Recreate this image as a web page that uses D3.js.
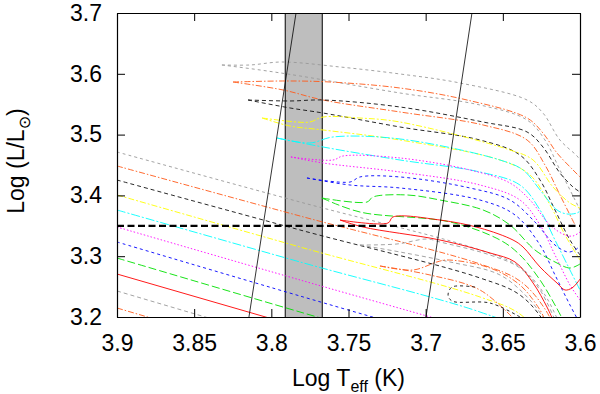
<!DOCTYPE html>
<html>
<head>
<meta charset="utf-8">
<script src="https://cdn.jsdelivr.net/npm/d3@7"></script>
<style>
body { margin: 0; background: white; }
text { font-family: "Liberation Sans", Arial, sans-serif; }
</style>
</head>
<body>
<svg></svg>
<script>
var w = 600
var h = 394
var padL = 117, padR = 580, padT = 13, padB = 317

var xTicks = [3.9, 3.85, 3.8, 3.75, 3.7, 3.65, 3.6]
var yTicks = [3.2, 3.3, 3.4, 3.5, 3.6, 3.7]

// shaded band in log Teff
var band = [3.791, 3.767]
// the two slanted edges
var blueEdge = [[3.784, 3.7], [3.8145, 3.2]]
var redEdge = [[3.670, 3.7], [3.6998, 3.2]]
var refLum = 3.35

// tracks, top (0) to bottom (10): [logTeff, logL]
var crossing = [
  [[3.9,3.4714],[3.7814,3.3891],[3.6648,3.3102],[3.6389,3.2822],[3.6227,3.2362],[3.6097,3.167]],
  [[3.9,3.4484],[3.7814,3.3661],[3.6648,3.2872],[3.6389,3.2592],[3.6227,3.2132],[3.6097,3.1441]],
  [[3.9,3.4253],[3.7814,3.3431],[3.6648,3.2642],[3.6389,3.2362],[3.6227,3.1901],[3.6097,3.1211]],
  [[3.9,3.4007],[3.7814,3.3151],[3.6648,3.2329],[3.6389,3.2049],[3.6227,3.1589]],
  [[3.9,3.376],[3.7814,3.2905],[3.6648,3.2082],[3.6389,3.1803],[3.6227,3.1342]],
  [[3.9,3.348],[3.7814,3.2609],[3.6648,3.177]],
  [[3.9,3.3234],[3.7814,3.2345],[3.6648,3.149]],
  [[3.9,3.297],[3.7814,3.2082],[3.6648,3.1227]],
  [[3.9,3.2707],[3.7814,3.1836]],
  [[3.9,3.2428],[3.7814,3.154]],
  [[3.9,3.2148],[3.7814,3.126]]
]

var loopUpper = [
  [[3.832,3.6145],[3.8138,3.6145],[3.7931,3.6194],[3.7555,3.6112],[3.7166,3.5997],[3.6778,3.5849],[3.6343,3.5569],[3.624,3.5355],[3.613,3.4911],[3.6019,3.4648],[3.600,3.4582]],
  [[3.8248,3.5865],[3.7898,3.5882],[3.762,3.5865],[3.7166,3.5766],[3.6732,3.5569],[3.6343,3.5273],[3.624,3.5026],[3.6149,3.4697],[3.6045,3.4418],[3.600,3.4303]],
  [[3.8151,3.5569],[3.7879,3.5553],[3.7665,3.5569],[3.7166,3.5454],[3.6628,3.5207],[3.6343,3.5043],[3.624,3.4796],[3.613,3.4368],[3.6045,3.4138],[3.600,3.4056]],
  [[3.806,3.5273],[3.7834,3.5207],[3.775,3.5207],[3.7665,3.5289],[3.7426,3.5273],[3.7166,3.5207],[3.6454,3.4747],[3.6304,3.4582],[3.6175,3.4138],[3.6065,3.3875],[3.600,3.3793]],
  [[3.7963,3.4944],[3.775,3.4862],[3.760,3.4961],[3.7166,3.4928],[3.6518,3.4582],[3.6369,3.4418],[3.6259,3.4089],[3.6149,3.376],[3.6084,3.3694],[3.6019,3.3711],[3.600,3.3743]],
  [[3.7873,3.4632],[3.760,3.4582],[3.7536,3.4648],[3.7166,3.4615],[3.6713,3.4418],[3.6454,3.4204],[3.6324,3.3924],[3.6194,3.3513],[3.6097,3.3349],[3.6045,3.3333],[3.600,3.3398]],
  [[3.7769,3.4286],[3.749,3.422],[3.7426,3.4303],[3.7166,3.4303],[3.6713,3.4122],[3.6454,3.3924],[3.6292,3.3563],[3.6162,3.3184],[3.6078,3.3069],[3.6032,3.3102],[3.600,3.3168]],
  [[3.7672,3.3957],[3.738,3.3891],[3.7341,3.3974],[3.7121,3.4007],[3.6907,3.3924],[3.6628,3.376],[3.6454,3.3513],[3.6292,3.3102],[3.6162,3.2905],[3.6065,3.2806],[3.600,3.2872]],
  [[3.7555,3.3595],[3.7244,3.3546],[3.7212,3.3645],[3.6907,3.3595],[3.6648,3.3464],[3.6434,3.3266],[3.6369,3.3151],[3.6259,3.2822],[3.6149,3.2559],[3.6097,3.2444],[3.6052,3.2477],[3.6019,3.2559],[3.600,3.2625]],
  [[3.7426,3.3184],[3.7186,3.3201],[3.6991,3.3283],[3.6907,3.3234],[3.6583,3.302],[3.6389,3.2806],[3.6259,3.2444],[3.6162,3.195]],
  [[3.7296,3.2839],[3.7082,3.2773],[3.6927,3.2905],[3.6862,3.2938],[3.6583,3.2806],[3.6389,3.2526],[3.6259,3.2115],[3.6227,3.195]]
]

var loopLower = [
  [[3.832,3.6145],[3.8073,3.6063],[3.7814,3.5964],[3.7166,3.5684],[3.6648,3.5487],[3.6343,3.524],[3.6227,3.4911],[3.613,3.4418],[3.6032,3.3924],[3.600,3.376]],
  [[3.8248,3.5865],[3.7924,3.5734],[3.7665,3.5569],[3.7166,3.5372],[3.6628,3.5158],[3.6343,3.4911],[3.6227,3.45],[3.613,3.4007],[3.6032,3.3513]],
  [[3.8151,3.5569],[3.7879,3.5438],[3.7665,3.5355],[3.7166,3.5125],[3.6648,3.4911],[3.6389,3.4664],[3.6259,3.4253],[3.6162,3.376],[3.6065,3.3266],[3.600,3.302]],
  [[3.806,3.5273],[3.7879,3.5141],[3.7665,3.5076],[3.7166,3.4911],[3.6518,3.4582],[3.6324,3.4336],[3.6194,3.3842],[3.6097,3.3349],[3.600,3.2938]],
  [[3.7963,3.4944],[3.7665,3.4796],[3.7166,3.4582],[3.6648,3.4385],[3.6389,3.4171],[3.6259,3.376],[3.6162,3.3266],[3.6065,3.2773],[3.600,3.2444]],
  [[3.7873,3.4632],[3.7665,3.4533],[3.7166,3.4385],[3.6648,3.4171],[3.6389,3.3924],[3.6259,3.3513],[3.6162,3.302],[3.6065,3.2526],[3.600,3.228]],
  [[3.7769,3.4286],[3.749,3.4171],[3.7166,3.4122],[3.6648,3.3924],[3.6421,3.3678],[3.6259,3.3184],[3.6162,3.2691],[3.6065,3.2197],[3.6013,3.195]],
  [[3.7672,3.3957],[3.7426,3.3727],[3.6842,3.3563],[3.6518,3.3266],[3.6389,3.302],[3.6259,3.2609],[3.6162,3.2197],[3.611,3.195]],
  [[3.7555,3.3595],[3.7406,3.348],[3.6907,3.3266],[3.6583,3.3053],[3.6421,3.2905],[3.6304,3.2559],[3.6214,3.2164],[3.6175,3.195]],
  [[3.7426,3.3184],[3.7166,3.3069],[3.6842,3.2905],[3.6518,3.2691],[3.6324,3.228],[3.6227,3.195]],
  [[3.7296,3.2839],[3.6972,3.2691],[3.6648,3.2444],[3.6421,3.195]]
]

// small dashed hook low in the plot
var smallHook = [[3.668,3.2493],[3.6829,3.2493],[3.6855,3.2362],[3.6829,3.2263],[3.6583,3.223],[3.6389,3.2]]

var colors = ["#999999","#ff5a1a","#111111","#ffff00","#00ffff","#ff00ff","#0000ff","#00e000","#ff0000","#999999","#ff5a1a"]
var dashes = ["3,3","6,2,1.5,2","4,3","6,2,2,2","9,2,2,2","1.5,2","3,3","8,3","none","4,3","6,2,1.5,2"]

var svg = d3.select("svg")
  .attr("width", w)
  .attr("height", h)
  .style("background-color", "white")

var x = d3.scaleLinear().domain([3.9, 3.6]).range([padL, padR])
var y = d3.scaleLinear().domain([3.2, 3.7]).range([padB, padT])

svg.append("defs").append("clipPath")
  .attr("id", "plotClip")
  .append("rect")
  .attr("x", padL).attr("y", padT)
  .attr("width", padR - padL).attr("height", padB - padT)

var plot = svg.append("g").attr("clip-path", "url(#plotClip)")

// gray band
plot.append("rect")
  .attr("x", x(band[0]))
  .attr("y", padT)
  .attr("width", x(band[1]) - x(band[0]))
  .attr("height", padB - padT)
  .attr("fill", "#bebebe")

plot.selectAll(".bandEdge")
  .data(band)
  .join("line")
  .attr("class", "bandEdge")
  .attr("x1", function(d){ return x(d) })
  .attr("x2", function(d){ return x(d) })
  .attr("y1", padT)
  .attr("y2", padB)
  .attr("stroke", "black")
  .attr("stroke-width", 1)

var line = d3.line()
  .x(function(d){ return x(d[0]) })
  .y(function(d){ return y(d[1]) })
  .curve(d3.curveCatmullRom.alpha(0.5))

function drawSet(set, cls) {
  plot.selectAll("." + cls)
    .data(set)
    .join("path")
    .attr("class", cls)
    .attr("d", line)
    .attr("fill", "none")
    .attr("stroke", function(d, i){ return colors[i] })
    .attr("stroke-width", 0.9)
    .attr("stroke-dasharray", function(d, i){ return dashes[i] })
}

drawSet(crossing, "cross")
drawSet(loopLower, "loLow")
drawSet(loopUpper, "loUp")

plot.append("path")
  .attr("d", line(smallHook))
  .attr("fill", "none")
  .attr("stroke", "#111")
  .attr("stroke-width", 0.9)
  .attr("stroke-dasharray", "3,3")

// slanted edges
plot.selectAll(".edge")
  .data([blueEdge, redEdge])
  .join("line")
  .attr("class", "edge")
  .attr("x1", function(d){ return x(d[0][0]) })
  .attr("y1", function(d){ return y(d[0][1]) })
  .attr("x2", function(d){ return x(d[1][0]) })
  .attr("y2", function(d){ return y(d[1][1]) })
  .attr("stroke", "black")
  .attr("stroke-width", 0.8)

// reference luminosity
plot.append("line")
  .attr("x1", padL).attr("x2", padR)
  .attr("y1", y(refLum)).attr("y2", y(refLum))
  .attr("stroke", "black")
  .attr("stroke-width", 2.2)
  .attr("stroke-dasharray", "7,3.5")

// axes, ticks inward on all sides
var fmt = function(d){ return String(d) }

svg.append("g")
  .attr("transform", "translate(0," + padB + ")")
  .call(d3.axisBottom(x).tickValues(xTicks).tickFormat(fmt).tickSize(-8).tickSizeOuter(0).tickPadding(18))
svg.append("g")
  .attr("transform", "translate(" + padL + ",0)")
  .call(d3.axisLeft(y).tickValues(yTicks).tickFormat(fmt).tickSize(-8).tickSizeOuter(0).tickPadding(15))
svg.append("g")
  .attr("transform", "translate(0," + padT + ")")
  .call(d3.axisTop(x).tickValues(xTicks).tickFormat("").tickSize(-8).tickSizeOuter(0))
svg.append("g")
  .attr("transform", "translate(" + padR + ",0)")
  .call(d3.axisRight(y).tickValues(yTicks).tickFormat("").tickSize(-8).tickSizeOuter(0))

svg.selectAll(".domain").attr("stroke", "black").attr("stroke-width", 1.2)
svg.selectAll(".tick line").attr("stroke", "black").attr("stroke-width", 1)
svg.selectAll(".tick text")
  .attr("fill", "black")
  .style("font-family", "'Liberation Sans', Arial, sans-serif")
  .style("font-size", "23px")

// axis titles
var xt = svg.append("text")
  .attr("x", (padL + padR) / 2)
  .attr("y", 386)
  .attr("text-anchor", "middle")
  .style("font-size", "23px")
xt.append("tspan").text("Log T")
xt.append("tspan").attr("dy", 6).style("font-size", "16px").text("eff")
xt.append("tspan").attr("dy", -6).text(" (K)")

var yt = svg.append("text")
  .attr("transform", "translate(24," + ((padT + padB) / 2 - 4) + ") rotate(-90)")
  .attr("text-anchor", "middle")
  .style("font-size", "23px")
yt.append("tspan").text("Log (L/L")
yt.append("tspan").attr("dy", 6).style("font-size", "16px").style("font-family", "'DejaVu Sans', sans-serif").text("\u2299")
yt.append("tspan").attr("dy", -6).text(")")
</script>
</body>
</html>
